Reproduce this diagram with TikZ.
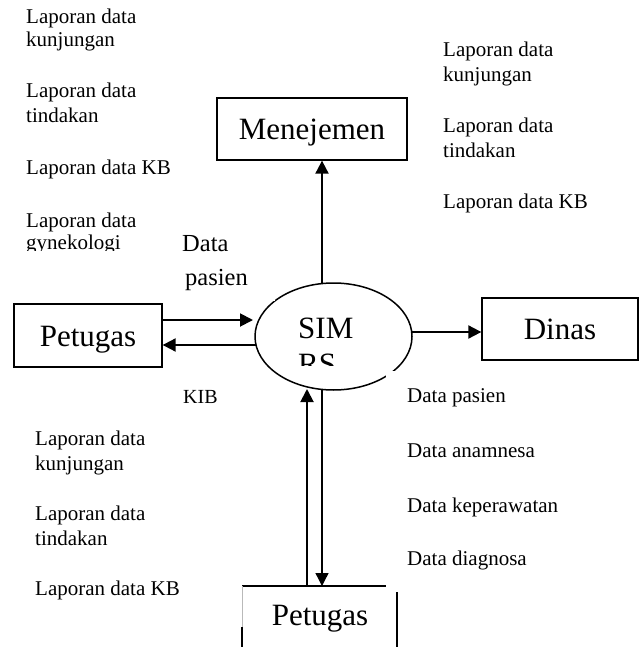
\documentclass[tikz,border=0pt]{standalone}
\usepackage{fontspec}
\setmainfont{Liberation Serif}
\usetikzlibrary{arrows.meta,shapes.geometric}
\begin{document}
\begin{tikzpicture}[x=1pt,y=-1pt,
  box/.style={draw,line width=1.3pt,inner sep=0pt,text height=21pt,text depth=0pt,
              font=\fontsize{31}{36}\selectfont},
  big/.style={inner sep=0pt,anchor=base west,font=\fontsize{31}{36}\selectfont},
  flow/.style={line width=1.9pt,-{Triangle[length=13pt,width=13pt]}},
  lbl/.style={anchor=base west,inner sep=0pt,font=\fontsize{21}{24}\selectfont},
  mid/.style={anchor=base west,inner sep=0pt,font=\fontsize{24.5}{30}\selectfont},
  mask/.style={fill=white,draw=none}
]
\useasboundingbox (0,0) rectangle (639,647);

% external entities and the process
\node[box,minimum width=148pt,minimum height=63pt] (petugasL) at (88,335.5) {Petugas};
\node[box,minimum width=190pt,minimum height=62pt] (menejemen) at (312,129) {Menejemen};
\node[box,minimum width=156pt,minimum height=62pt] (dinas) at (560,329) {Dinas};
\node[ellipse,draw,line width=1.5pt,minimum width=157pt,minimum height=107pt,inner sep=0pt]
  (sim) at (333.5,336.5) {};

% lower entity, only partly visible
\coordinate (boxTop) at (320,586);
\draw[line width=1.3pt] (242,586) -- (397,586) -- (397,647);
\draw[gray!55,line width=0.8pt] (242,586) -- (242,627);
\draw[line width=1.3pt] (242,627) -- (242,647);

% connector end points on the process
\coordinate (inL) at (253,320);
\coordinate (outL) at (256,345);
\coordinate (simTop) at (322,283.5);
\coordinate (simRight) at (412,332);
\coordinate (simBotA) at (307,389);
\coordinate (simBotB) at (322,390);

% data flows
\draw[flow] (petugasL.east |- inL) -- (inL);
\draw[flow] (outL) -- (petugasL.east |- outL);
\draw[flow] (simTop) -- (menejemen.south -| simTop);
\draw[flow] (simRight) -- (dinas.west |- simRight);
\draw[flow] (simBotA |- boxTop) -- (simBotA);
\draw[flow,line width=1.3pt] (simBotB) -- (simBotB |- boxTop);

% opaque label frames laid over the lines
\fill[mask] (165,225) rectangle (275,301);
\fill[mask] (386,371) rectangle (560,592);

% process label, clipped by its frame
\begin{scope}
  \clip (280,300) rectangle (380,365);
  \node[big] (simA) at (298,338) {SIM};
  \node[big] (simB) at (298,374) {RS};
\end{scope}
\node[inner sep=0pt,anchor=base,font=\fontsize{31}{36}\selectfont] (petugasB) at (320,625) {Petugas};

% reports to management (left column)
\node[lbl] (tl1) at (26,24) {Laporan data};
\node[lbl] (tl2) at (26,47) {kunjungan};
\node[lbl] (tl3) at (26,98) {Laporan data};
\node[lbl] (tl4) at (26,123) {tindakan};
\node[lbl] (tl5) at (26,175) {Laporan data KB};
\node[lbl] (tl6) at (26,227) {Laporan data};
\begin{scope}
  \clip (0,230) rectangle (170,250.5);
  \node[lbl] (tl7) at (26,249) {gynekologi};
\end{scope}

% patient data into the system
\node[mid] (dp1) at (182,251) {Data};
\node[mid] (dp2) at (185,285) {pasien};
\node[inner sep=0pt,anchor=base west,font=\fontsize{20}{24}\selectfont] (kib) at (183,403) {KIB};

% reports to management (right column)
\node[lbl] (tr1) at (443,57) {Laporan data};
\node[lbl] (tr2) at (443,82) {kunjungan};
\node[lbl] (tr3) at (443,133) {Laporan data};
\node[lbl] (tr4) at (443,158) {tindakan};
\node[lbl] (tr5) at (443,208) {Laporan data KB};

% reports back to staff
\node[lbl] (bl1) at (35,445) {Laporan data};
\node[lbl] (bl2) at (35,470) {kunjungan};
\node[lbl] (bl3) at (35,520) {Laporan data};
\node[lbl] (bl4) at (35,545) {tindakan};
\node[lbl] (bl5) at (35,595) {Laporan data KB};

% staff input
\node[lbl] (br1) at (407,402) {Data pasien};
\node[lbl] (br2) at (407,457) {Data anamnesa};
\node[lbl] (br3) at (407,512) {Data keperawatan};
\node[lbl] (br4) at (407,565) {Data diagnosa};
\end{tikzpicture}
\end{document}
